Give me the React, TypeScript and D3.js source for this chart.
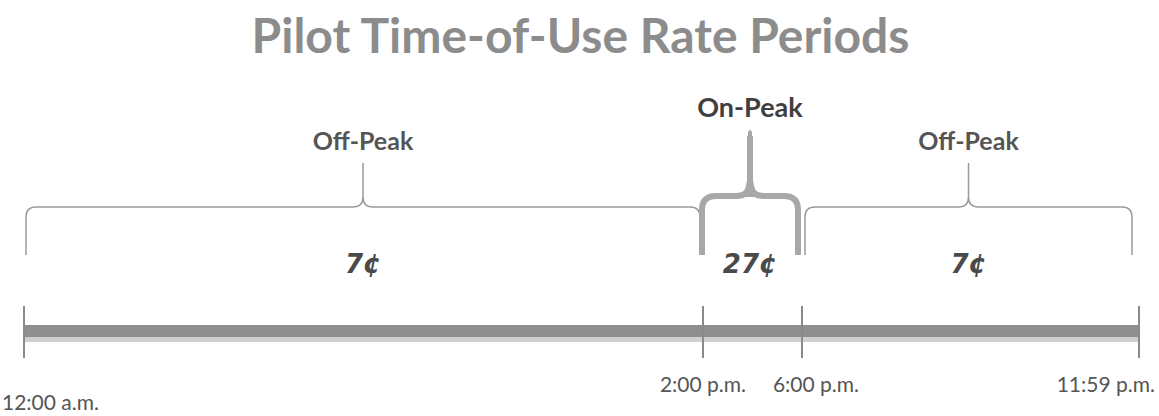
import React, { useEffect, useRef } from 'react';
import * as d3 from 'd3';

// rate periods over the day (hours)
const boundaries = [0, 14, 18, 23.983];
const periodNames = ['Off-Peak', 'On-Peak', 'Off-Peak'];
const rates = [7, 27, 7];
const peakFlags = [false, true, false];
const tickLabels = ['12:00 a.m.', '2:00 p.m.', '6:00 p.m.', '11:59 p.m.'];

const W = 1159;
const H = 416;
const FONT = 'Lato, "Open Sans", sans-serif';

const App = () => {
  const ref = useRef<SVGSVGElement>(null);

  useEffect(() => {
    const svg = d3.select(ref.current);
    svg.selectAll('*').remove();

    // the picture is not drawn to scale, so a piecewise scale
    const x = d3.scaleLinear()
      .domain(boundaries)
      .range([24, 703, 802, 1139]);

    // title
    svg.append('text')
      .attr('x', W / 2 + 1)
      .attr('y', 53)
      .attr('text-anchor', 'middle')
      .style('font-family', FONT)
      .style('font-weight', 'bold')
      .style('font-size', '48px')
      .style('fill', '#8c8c8c')
      .text('Pilot Time-of-Use Rate Periods');

    // timeline bar
    const barTop = 325;
    svg.append('rect')
      .attr('x', x(boundaries[0]))
      .attr('y', barTop + 11)
      .attr('width', x(boundaries[3]) - x(boundaries[0]))
      .attr('height', 6)
      .style('fill', '#cfcfcf');
    svg.append('rect')
      .attr('x', x(boundaries[0]))
      .attr('y', barTop)
      .attr('width', x(boundaries[3]) - x(boundaries[0]))
      .attr('height', 12)
      .style('fill', '#8f8f8f');

    // ticks
    svg.selectAll('line.tick')
      .data(boundaries)
      .enter()
      .append('line')
      .attr('class', 'tick')
      .attr('x1', d => x(d))
      .attr('x2', d => x(d))
      .attr('y1', 306)
      .attr('y2', 358)
      .style('stroke', '#8a8a8a')
      .style('stroke-width', 2);

    // tick labels (hand placed like the original)
    const labelPos = [
      { anchor: 'start', dx: -22, y: 410 },
      { anchor: 'middle', dx: 0, y: 392 },
      { anchor: 'middle', dx: 14, y: 392 },
      { anchor: 'end', dx: 16, y: 392 }
    ];
    svg.selectAll('text.tick-label')
      .data(tickLabels)
      .enter()
      .append('text')
      .attr('class', 'tick-label')
      .attr('x', (d, i) => x(boundaries[i]) + labelPos[i].dx)
      .attr('y', (d, i) => labelPos[i].y)
      .attr('text-anchor', (d, i) => labelPos[i].anchor)
      .style('font-family', FONT)
      .style('font-size', '21px')
      .style('fill', '#555')
      .text(d => d);

    // curly brace path
    const brace = (x0: number, x1: number, top: number, tip: number, bottom: number, r: number) => {
      const xm = (x0 + x1) / 2;
      const p = d3.path();
      p.moveTo(x0, bottom);
      p.lineTo(x0, top + r);
      p.quadraticCurveTo(x0, top, x0 + r, top);
      p.lineTo(xm - r, top);
      p.quadraticCurveTo(xm, top, xm, top - r);
      p.lineTo(xm, tip);
      p.moveTo(xm, top - r);
      p.quadraticCurveTo(xm, top, xm + r, top);
      p.lineTo(x1 - r, top);
      p.quadraticCurveTo(x1, top, x1, top + r);
      p.lineTo(x1, bottom);
      return p.toString();
    };

    const periods = periodNames.map((name, i) => ({
      name,
      rate: rates[i],
      peak: peakFlags[i],
      x0: x(boundaries[i]),
      x1: x(boundaries[i + 1])
    }));

    periods.forEach(d => {
      const x0 = d.peak ? d.x0 - 1 : d.x0 + (d.x0 < 100 ? 2 : 3);
      const x1 = d.peak ? d.x1 - 4 : d.x1 - (d.x1 > 1000 ? 7 : 3);
      const xm = (x0 + x1) / 2;
      if (d.peak) {
        svg.append('path')
          .attr('d', brace(x0, x1, 196, 136, 255, 14))
          .style('fill', 'none')
          .style('stroke', '#a8a8a8')
          .style('stroke-width', 6);
        // tapered spike
        svg.append('path')
          .attr('d', `M${xm - 9},197 Q${xm - 4},190 ${xm - 3},180 L${xm - 2},132 Q${xm},128 ${xm + 2},132 L${xm + 3},180 Q${xm + 4},190 ${xm + 9},197 Z`)
          .style('fill', '#a8a8a8');
      } else {
        svg.append('path')
          .attr('d', brace(x0, x1, 207, 163, 255, 10))
          .style('fill', 'none')
          .style('stroke', '#9a9a9a')
          .style('stroke-width', 1.5);
      }

      svg.append('text')
        .attr('x', xm)
        .attr('y', d.peak ? 117 : 150)
        .attr('text-anchor', 'middle')
        .style('font-family', FONT)
        .style('font-weight', 'bold')
        .style('font-size', d.peak ? '27px' : '25px')
        .style('fill', d.peak ? '#3f3f3f' : '#555')
        .text(d.name);

      svg.append('text')
        .attr('x', xm)
        .attr('y', 273)
        .attr('text-anchor', 'middle')
        .style('font-family', '"DejaVu Sans", sans-serif')
        .style('font-weight', 'bold')
        .style('font-style', 'italic')
        .style('font-size', '26px')
        .style('fill', '#4a4a4a')
        .text(`${d.rate}¢`);
    });
  }, []);

  return (
    <svg
      ref={ref}
      width={W}
      height={H}
      style={{ position: 'absolute', left: 0, top: 0, background: '#fff' }}
    />
  );
};

export default App;
